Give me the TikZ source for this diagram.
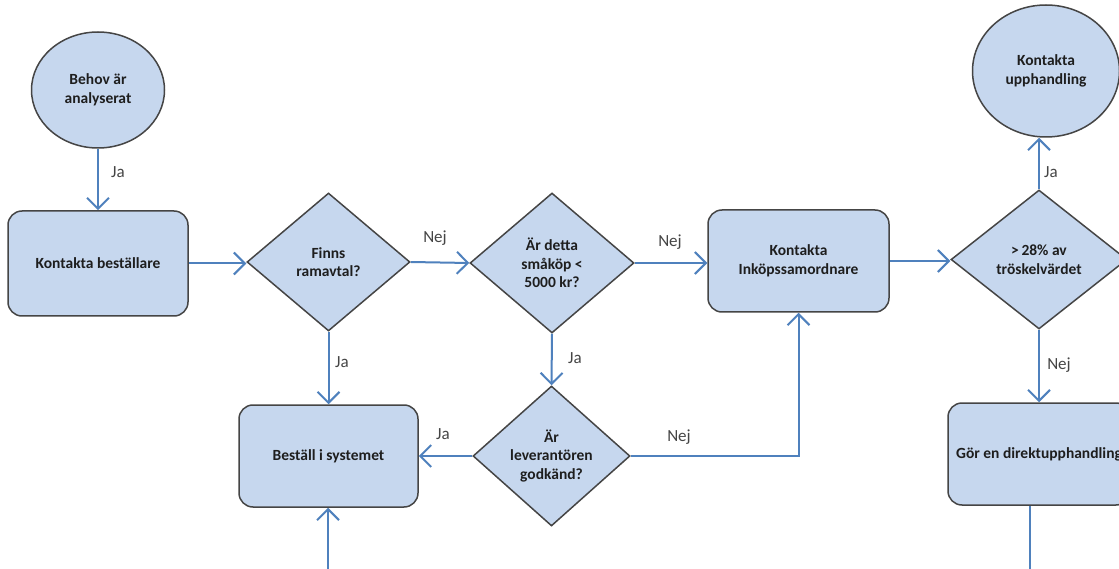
\documentclass[tikz,border=0pt]{standalone}
\usepackage{fontspec}
\setmainfont{Carlito}
\usetikzlibrary{shapes.geometric,arrows.meta}
\definecolor{fillb}{HTML}{C6D7EE}
\definecolor{edgec}{HTML}{454545}
\definecolor{arr}{HTML}{4F81BD}
\definecolor{txt}{HTML}{1E1E1E}
\tikzset{
 base/.style={draw=edgec, line width=1.5pt, fill=fillb, font=\fontsize{15.5}{18.5}\selectfont\bfseries, text=txt, align=center, inner sep=0pt},
 procbox/.style={base, rectangle, rounded corners=14pt},
 decbox/.style={base, diamond},
 termbox/.style={base, ellipse},
 conn/.style={draw=arr, line width=2pt, -{Straight Barb[length=11pt,width=22pt,line width=2pt]}},
 lbl/.style={font=\fontsize{17}{19}\selectfont, text=edgec, inner sep=0pt},
}
\begin{document}
\begin{tikzpicture}[x=1pt,y=-1pt]
\useasboundingbox (0,0) rectangle (1119,569);
\clip (0,0) rectangle (1119,569);
\fill[white] (0,0) rectangle (1119,569);
% nodes
\node[termbox, minimum width=133, minimum height=116] (behov) at (98,90) {Behov är\\analyserat};
\node[procbox, minimum width=180, minimum height=105] (kb) at (98,263.5) {Kontakta beställare};
\node[decbox, minimum width=163, minimum height=138] (finns) at (328.5,262) {Finns\\ramavtal?};
\node[decbox, minimum width=164, minimum height=140] (smakop) at (552,263) {Är detta\\småköp <\\5000 kr?};
\node[procbox, minimum width=181, minimum height=102] (inkop) at (798.5,261) {Kontakta\\Inköpssamordnare};
\node[decbox, minimum width=176, minimum height=139] (trosk) at (1039,259.5) {>\,28\% av\\tröskelvärdet};
\node[termbox, minimum width=147, minimum height=132] (upph) at (1046,71) {Kontakta\\upphandling};
\node[procbox, minimum width=182, minimum height=102] (gor) at (1039,454) {Gör en direktupphandling};
\node[procbox, minimum width=179, minimum height=102] (best) at (328.5,456) {Beställ i systemet};
\node[decbox, minimum width=157, minimum height=140] (lev) at (551.5,456) {Är\\leverantören\\godkänd?};
% free ends below the visible area
\coordinate (b1) at (1030,572);
\coordinate (b2) at (328,572);
% connectors
\draw[conn] (behov.south) -- (behov.south |- kb.north);
\draw[conn] (kb.east) -- (kb.east -| finns.west);
\draw[conn] (finns.east) -- (smakop.west);
\draw[conn] (smakop.east) -- (smakop.east -| inkop.west);
\draw[conn] (inkop.east) -- (inkop.east -| trosk.west);
\draw[conn] (trosk.north) -- (trosk.north |- upph.south);
\draw[conn] (trosk.south) -- (trosk.south |- gor.north);
\draw[conn] (finns.south) -- (finns.south |- best.north);
\draw[conn] (smakop.south) -- (lev.north);
\draw[conn] (lev.west) -- (lev.west -| best.east);
\draw[conn] (lev.east) -| (inkop.south);
\draw[conn] (gor.south -| b1) -- (b1) -- (b2) -- (best.south -| b2);
% labels
\node[lbl] (l1) at (118,172) {Ja};
\node[lbl] (l2) at (435,238) {Nej};
\node[lbl] (l3) at (670,242) {Nej};
\node[lbl] (l4) at (342,362) {Ja};
\node[lbl] (l5) at (575,358) {Ja};
\node[lbl] (l6) at (443,434) {Ja};
\node[lbl] (l7) at (679,437) {Nej};
\node[lbl] (l8) at (1051,172) {Ja};
\node[lbl] (l9) at (1059,365) {Nej};
\end{tikzpicture}
\end{document}
